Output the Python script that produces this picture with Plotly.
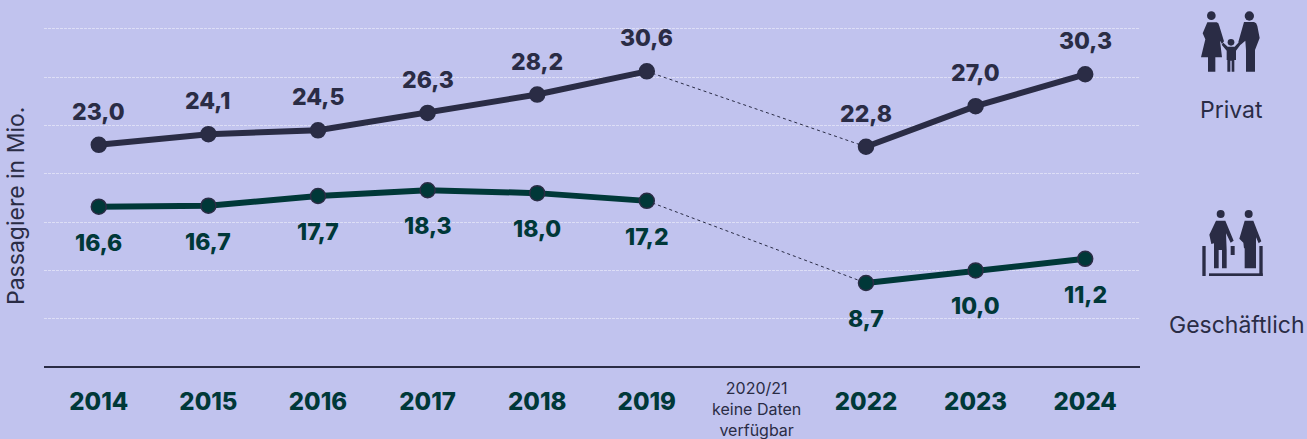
import base64
import plotly.graph_objects as go

W, H = 1307, 439
L, R, T, B = 44, 167, 24, 69
PW, PH = W - L - R, H - T - B

categories = ["2014", "2015", "2016", "2017", "2018", "2019", "2020/21", "2022", "2023", "2024"]
tick_labels = ["2014", "2015", "2016", "2017", "2018", "2019", "", "2022", "2023", "2024"]
privat = [23.0, 24.1, 24.5, 26.3, 28.2, 30.6, None, 22.8, 27.0, 30.3]
geschaeftlich = [16.6, 16.7, 17.7, 18.3, 18.0, 17.2, None, 8.7, 10.0, 11.2]
grid_values = [0, 5, 10, 15, 20, 25, 30, 35]

BG = "#c1c3ee"
NAVY = "#2a2c45"
GREEN = "#003838"
FONT = "Inter"


def fx(px):
    return (px - L) / PW


def fy(px):
    return 1 - (px - T) / PH


def svg_uri(w, h, body):
    svg = f'<svg xmlns="http://www.w3.org/2000/svg" viewBox="0 0 {w} {h}" width="{w}" height="{h}"><g fill="{NAVY}">{body}</g></svg>'
    return "data:image/svg+xml;base64," + base64.b64encode(svg.encode()).decode()


family_icon = svg_uri(501, 390, """
<circle cx="214" cy="47" r="13"/><circle cx="328" cy="48" r="14"/><circle cx="273" cy="127" r="10"/>
<path d="M202 67H230Q236 68 238 78L252 124L246 132L240 122L246 172H226V215H204V172H183L196 118L188 100Z"/>
<path d="M312 66H342Q350 68 352 78L359 114L345 150V215H318V150L316 122L302 134L295 126Z"/>
<path d="M250 128L263 140H284L297 126L303 132L288 152V180H283V215H275V182H271V215H262V180H260V152L245 134Z"/>
""")
business_icon = svg_uri(501, 420, """
<circle cx="242" cy="42" r="12"/><circle cx="326" cy="42" r="12"/>
<path d="M228 62H256L281 122L272 128L258 100L260 150V205H246V150H236V205H222V130L214 132L208 104Z"/>
<path d="M314 62H340L364 124L356 130L348 112V205H314V145H312L310 128L298 116Z"/>
<rect x="272" y="138" width="12" height="27"/>
<rect x="187" y="138" width="10" height="90"/><rect x="358" y="138" width="10" height="90"/><rect x="207" y="220" width="161" height="8"/>
""")


def gap_segment(values):
    i = values.index(None)
    y = [None] * len(values)
    y[i - 1], y[i], y[i + 1] = values[i - 1], (values[i - 1] + values[i + 1]) / 2, values[i + 1]
    return y


def line_trace(name, values, line_color, marker_color, width):
    return go.Scatter(
        x=categories, y=values, name=name, mode="lines+markers",
        line=dict(color=line_color, width=width),
        marker=dict(color=marker_color, size=15, line=dict(color=NAVY, width=1.5)),
        hoverinfo="skip",
    )


fig = go.Figure()
for vals in (privat, geschaeftlich):
    fig.add_trace(go.Scatter(
        x=categories, y=gap_segment(vals), mode="lines", connectgaps=True,
        line=dict(color=NAVY, width=1, dash="dot"), hoverinfo="skip",
    ))
fig.add_trace(line_trace("Privat", privat, NAVY, NAVY, 6))
fig.add_trace(line_trace("Geschäftlich", geschaeftlich, GREEN, GREEN, 6))

annotations = []
for i, (p, g) in enumerate(zip(privat, geschaeftlich)):
    if p is None:
        continue
    annotations.append(dict(x=i, y=p, xref="x", yref="y", yshift=33,
                            text=f"{p:.1f}".replace(".", ","),
                            showarrow=False, xanchor="center", yanchor="middle",
                            font=dict(family=FONT, size=23, color=NAVY, weight=800)))
    annotations.append(dict(x=i, y=g, xref="x", yref="y", yshift=-36,
                            text=f"{g:.1f}".replace(".", ","),
                            showarrow=False, xanchor="center", yanchor="middle",
                            font=dict(family=FONT, size=23, color=GREEN, weight=800)))

annotations += [
    dict(x=categories.index("2020/21"), xref="x", y=fy(409), yref="paper", text="2020/21<br>keine Daten<br>verfügbar",
         showarrow=False, font=dict(family=FONT, size=16, color=NAVY), align="center",
         xanchor="center", yanchor="middle"),
    dict(x=fx(16), xref="paper", y=fy(206), yref="paper", text="Passagiere in Mio.", textangle=-90,
         showarrow=False, xanchor="center", yanchor="middle", font=dict(family=FONT, size=23, color=NAVY)),
    dict(x=fx(1231), xref="paper", y=fy(110), yref="paper", text="Privat", showarrow=False,
         xanchor="center", yanchor="middle", font=dict(family=FONT, size=23, color=NAVY)),
    dict(x=fx(1237), xref="paper", y=fy(325), yref="paper", text="Geschäftlich", showarrow=False,
         xanchor="center", yanchor="middle", font=dict(family=FONT, size=23, color=NAVY)),
]

fig.update_layout(
    width=W, height=H, autosize=False, showlegend=False,
    margin=dict(l=L, r=R, t=T, b=B, pad=0),
    paper_bgcolor=BG, plot_bgcolor=BG,
    annotations=annotations,
    images=[
        dict(source=family_icon, xref="paper", yref="paper", x=fx(1140), y=fy(0), sizex=167 / PW, sizey=130 / PH,
             xanchor="left", yanchor="top", sizing="stretch", layer="above"),
        dict(source=business_icon, xref="paper", yref="paper", x=fx(1140), y=fy(200), sizex=167 / PW, sizey=140 / PH,
             xanchor="left", yanchor="top", sizing="stretch", layer="above"),
    ],
    xaxis=dict(type="category", categoryorder="array", categoryarray=categories,
               tickmode="array", tickvals=categories, ticktext=tick_labels,
               range=[-0.5, 9.5], showgrid=False, zeroline=False, ticks="", ticklen=0,
               showline=False, ticklabelstandoff=15,
               tickfont=dict(family=FONT, size=24, color=GREEN, weight=800)),
    yaxis=dict(range=[-0.3, 35.5], tickmode="array", tickvals=grid_values, showticklabels=False, ticks="",
               showgrid=True, gridcolor="rgba(255,255,255,0.45)", gridwidth=1, griddash="3px,1px",
               zeroline=True, zerolinecolor=NAVY, zerolinewidth=2, showline=False),
)
fig.write_html(
    "out.html",
    config={"displayModeBar": False},
    post_script="document.body.style.margin='0';document.body.style.overflow='hidden';document.documentElement.style.overflow='hidden';",
)
